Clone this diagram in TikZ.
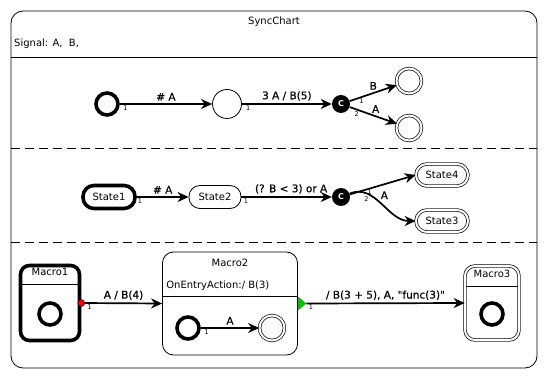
\documentclass[tikz,border=0pt]{standalone}
\usepackage{fontspec}
\setmainfont{DejaVu Sans}
\newfontfamily\edgefont{DejaVu Sans}[FakeBold=0.5]
\usetikzlibrary{arrows.meta,shapes.geometric,calc}
\begin{document}
\begin{tikzpicture}[x=1pt,y=-1pt,
  font=\fontsize{10}{12}\selectfont,
  frame/.style={draw, line width=0.8pt},
  sep/.style={line width=0.9pt, dash pattern=on 9pt off 5pt},
  initstate/.style={circle, draw, line width=3.6pt, minimum size=22pt, inner sep=0pt},
  simple/.style={circle, draw, line width=0.8pt, minimum size=29pt, inner sep=0pt},
  finalstate/.style={circle, draw, line width=0.7pt, double, double distance=2pt, minimum size=25pt, inner sep=0pt},
  choice/.style={circle, fill=black, text=white, minimum size=18pt, inner sep=0pt,
    font=\fontsize{8}{9}\selectfont\bfseries},
  named/.style={draw, line width=0.8pt, rounded corners=11pt, minimum width=52pt,
    minimum height=23pt, inner sep=1pt},
  thickborder/.style={line width=3.6pt},
  doubleborder/.style={line width=0.7pt, double, double distance=2pt},
  transition/.style={line width=1.7pt, -{Stealth[length=11pt,width=10pt,inset=3.5pt]}},
  lab/.style={inner sep=2.5pt, font=\fontsize{10.5}{12}\edgefont},
  prio/.style={inner sep=0.5pt, font=\fontsize{6.5}{7}\selectfont},
]
\useasboundingbox (0,0) rectangle (548,379);

% chart frame and header
\draw[frame, rounded corners=12pt] (11,11) rectangle (537,368);
\draw[frame] (11,57) -- (537,57);
\node (title) at (274,22) {SyncChart};
\node[anchor=west, inner sep=0pt] (signals) at (14,44) {Signal: A,\ \ B,};

% region separators
\draw[sep] (11,148) -- (537,148);
\draw[sep] (11,242) -- (537,242);

% ---------- region 1 ----------
\node[initstate] (i1) at (107,104) {};
\node[simple] (p1) at (227,104) {};
\node[choice] (c1) at (341,104) {C};
\node[finalstate] (f1) at (409,81) {};
\node[finalstate] (f2) at (409,128) {};
\draw[transition] (i1) -- node[lab, above] {\# A} node[prio, pos=0.06, below] {1} (p1);
\draw[transition] (p1) -- node[lab, above] {3 A / B(5)} node[prio, pos=0.07, below] {1} (c1);
\draw[transition] (c1) -- node[lab, above, pos=0.5] {B} node[prio, pos=0.25, below] {1} (f1);
\draw[transition] (c1) -- node[lab, above, pos=0.55] {A} node[prio, pos=0.22, below left] {2} (f2);

% ---------- region 2 ----------
\node[named, thickborder] (s1) at (109,197) {State1};
\node[named] (s2) at (215,197) {State2};
\node[choice] (c2) at (341,197) {C};
\node[named, doubleborder, minimum width=52pt, minimum height=22pt] (s4) at (442,175) {State4};
\node[named, doubleborder, minimum width=52pt, minimum height=22pt] (s3) at (442,221) {State3};
\draw[transition] (s1) -- node[lab, above] {\# A} node[prio, pos=0.06, below] {1} (s2);
\draw[transition] (s2) -- node[lab, above, pos=0.55] {(? B < 3) or A} node[prio, pos=0.05, below] {1} (c2);
\draw[transition] (c2) -- node[prio, pos=0.3, below] {1} (s4.west);
\draw[transition] (c2) to[out=22, in=180] node[lab, above right, pos=0.45, inner sep=1pt] {A} node[prio, pos=0.3, below left] {2} (s3.west);

% ---------- region 3 ----------
\node[draw, thickborder, rounded corners=9pt, minimum width=59pt, minimum height=75pt] (m1) at (50,303) {};
\node[anchor=north, inner sep=1pt] (m1t) at ($(m1.north)+(0,3)$) {Macro1};
\draw[line width=0.8pt] ($(m1.north west)+(0,21)$) -- ($(m1.north east)+(0,21)$);
\node[initstate] (m1i) at (50,314) {};

\node[draw, line width=0.8pt, rounded corners=11pt, minimum width=135pt, minimum height=103pt] (m2) at (230,303.5) {};
\node[anchor=north, inner sep=1pt] (m2t) at ($(m2.north)+(0,6)$) {Macro2};
\node[anchor=west, inner sep=1pt] (m2a) at ($(m2.north west)+(3,34)$) {OnEntryAction:/ B(3)};
\draw[line width=0.8pt] ($(m2.north west)+(0,45)$) -- ($(m2.north east)+(0,45)$);
\node[initstate] (m2i) at (188,328) {};
\node[finalstate] (m2f) at (272,328) {};
\draw[transition] (m2i) -- node[lab, above] {A} node[prio, pos=0.1, below] {1} (m2f);

\node[draw, doubleborder, rounded corners=10pt, minimum width=54pt, minimum height=74pt] (m3) at (492,303) {};
\node[anchor=north, inner sep=1pt] (m3t) at ($(m3.north)+(0,3)$) {Macro3};
\draw[line width=0.7pt] ($(m3.north west)+(1.5,21)$) -- ($(m3.north east)+(-1.5,21)$);
\node[initstate] (m3i) at (492,314) {};

% exit markers on the macro states
\node[circle, fill=red, draw=black, line width=0.4pt, minimum size=7pt, inner sep=0pt] (x1) at (m1.east) {};
\node[isosceles triangle, isosceles triangle apex angle=80, fill={rgb,255:red,0;green,200;blue,0},
  draw=black!60, line width=0.3pt, minimum height=8pt, inner sep=0pt, anchor=west] (x2) at (m2.east) {};

\draw[transition] (x1) -- node[lab, above] {A / B(4)} node[prio, pos=0.06, below] {1} (m2.west);
\draw[transition] (x2.east) -- node[lab, above] {/ B(3 + 5), A, "func(3)"} node[prio, pos=0.03, below] {1} (m3.west);
\end{tikzpicture}
\end{document}
